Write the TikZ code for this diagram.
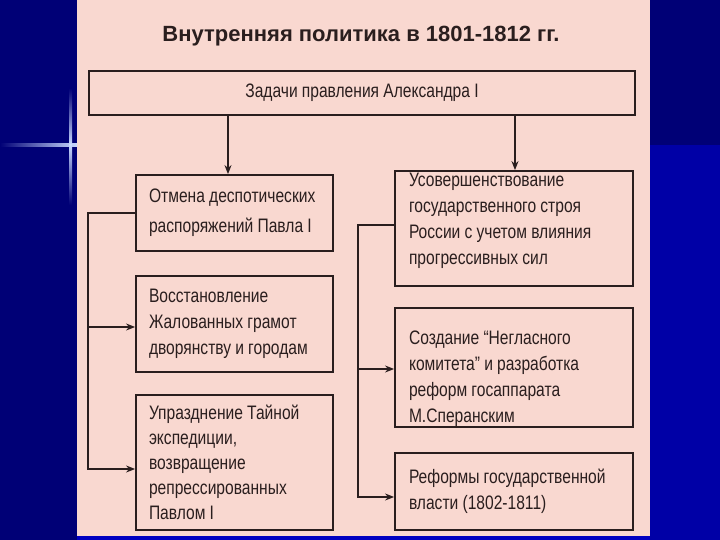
\documentclass[tikz,border=0pt]{standalone}
\usepackage{fontspec}
\setmainfont[FakeStretch=0.8]{Liberation Sans}
\newfontfamily\titlefont{Liberation Sans}
\usetikzlibrary{arrows.meta}
\definecolor{navy}{HTML}{000076}
\definecolor{lblue}{HTML}{0000A6}
\definecolor{page}{HTML}{F9D8D0}
\definecolor{ink}{HTML}{2A1E1E}
\definecolor{flare}{HTML}{C8D8FF}
\newcommand{\boxfont}[1]{\fontsize{19.5}{#1}\selectfont\spaceskip=4.2pt plus 1pt minus 1pt\relax}
\begin{document}
\begin{tikzpicture}[x=1pt,y=-1pt,
  box/.style={draw=ink, line width=1.8pt, fill=page, inner xsep=13pt, inner ysep=0pt, align=flush left,
    font=\boxfont{26}, text=ink},
  arr/.style={draw=ink, line width=1.4pt, -{Stealth[length=9pt,width=7pt]}},
  link/.style={draw=ink, line width=1.4pt}]
\useasboundingbox (0,0) rectangle (720,540);
% background
\fill[navy] (0,0) rectangle (720,540);
\fill[lblue] (650,145) rectangle (720,540);
\fill[page] (77,0) rectangle (650,536);
\fill[blue!55!navy] (77,536) rectangle (650,540);
% flare
\shade[left color=navy, right color=flare] (0,144) rectangle (77,147);
\shade[top color=navy, bottom color=flare] (69,88) rectangle (72,145);
\shade[top color=flare, bottom color=navy] (69,145) rectangle (72,205);
% title
\node[font=\titlefont\bfseries\fontsize{22}{26}\selectfont, text=ink] (title) at (361,36) {Внутренняя политика в 1801-1812 гг.};
% boxes
\node[box, align=center, minimum width=546pt, minimum height=44pt] (top) at (362,93) {Задачи правления Александра I};
\node[box, text width=171pt, minimum width=197pt, minimum height=76pt, font=\boxfont{30}] (L1) at (234.5,213)
  {Отмена деспотических\\распоряжений Павла I};
\node[box, text width=171pt, minimum width=197pt, minimum height=96pt] (L2) at (234.5,324)
  {Восстановление\\Жалованных грамот\\дворянству и городам};
\node[box, text width=171pt, minimum width=197pt, minimum height=135pt, font=\boxfont{25}] (L3) at (234.5,462.5)
  {Упразднение Тайной\\экспедиции,\\возвращение\\репрессированных\\Павлом I};
\node[box, text width=210pt, minimum width=238pt, minimum height=115pt] (R1) at (514,228.5)
  {Усовершенствование\\государственного строя\\России с учетом влияния\\прогрессивных сил\rule[-19pt]{0pt}{19pt}};
\node[box, text width=210pt, minimum width=238pt, minimum height=119pt] (R2) at (514,367.5)
  {\rule{0pt}{36.5pt}Создание “Негласного\\комитета” и разработка\\реформ госаппарата\\М.Сперанским};
\node[box, text width=210pt, minimum width=238pt, minimum height=77pt] (R3) at (514,491.5)
  {Реформы государственной\\власти (1802-1811)};
% connectors
\coordinate (ax) at (228,0);
\coordinate (bx) at (515,0);
\coordinate (lx) at (88,0);
\coordinate (rx) at (358,0);
\draw[arr] (top.south -| ax) -- (L1.north -| ax);
\draw[arr] (top.south -| bx) -- (R1.north -| bx);
\draw[arr] (L1.west) -- (L1.west -| lx) |- ([yshift=-6.5pt]L3.west);
\draw[arr] ([yshift=-3pt]L2.west -| lx) -- ([yshift=-3pt]L2.west);
\draw[arr] ([yshift=3.5pt]R1.west) -- ([yshift=3.5pt]R1.west -| rx) |- ([yshift=-5.5pt]R3.west);
\draw[arr] ([yshift=-1.5pt]R2.west -| rx) -- ([yshift=-1.5pt]R2.west);
\end{tikzpicture}
\end{document}
